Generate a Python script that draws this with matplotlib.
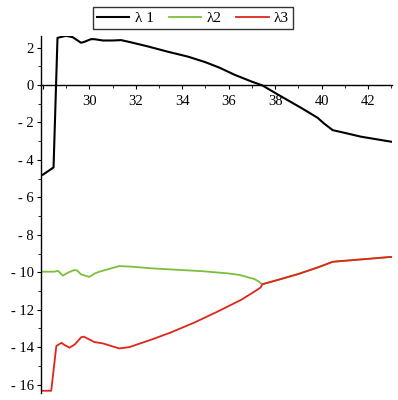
import matplotlib
matplotlib.use("Agg")
import matplotlib.pyplot as plt
from matplotlib.ticker import MultipleLocator, FuncFormatter

# lambda 1 (black)
x1 = [28.0, 28.46, 28.63, 28.99, 29.28, 29.64, 29.79, 30.07, 30.22, 30.58, 31.0, 31.37,
      31.8, 32.5, 33.38, 34.24, 35.0, 35.6, 36.25, 37.0, 37.45, 38.12, 39.12, 39.83,
      40.1, 40.48, 40.98, 41.7, 43.06]
y1 = [-4.79, -4.40, 2.52, 2.63, 2.56, 2.26, 2.31, 2.45, 2.45, 2.38, 2.38, 2.40,
      2.28, 2.07, 1.78, 1.52, 1.22, 0.93, 0.55, 0.18, -0.02, -0.51, -1.22, -1.75,
      -2.05, -2.41, -2.55, -2.76, -3.04]

# lambda 2 (green)
x2 = [28.0, 28.5, 28.65, 28.86, 29.08, 29.36, 29.47, 29.64, 30.0, 30.22, 30.43, 31.29,
      31.8, 32.67, 33.95, 34.82, 35.97, 36.5, 36.83, 37.1, 37.26, 37.45, 38.2,
      38.98, 39.84, 40.48, 41.84, 43.09]
y2 = [-9.97, -9.97, -9.92, -10.18, -10.02, -9.88, -9.9, -10.11, -10.25, -10.07, -9.97, -9.67,
      -9.70, -9.79, -9.88, -9.94, -10.06, -10.15, -10.27, -10.36, -10.47, -10.64, -10.38,
      -10.1, -9.74, -9.44, -9.3, -9.17]

# lambda 3 (red)
x3 = [27.97, 28.36, 28.58, 28.8, 28.94, 29.15, 29.37, 29.65, 29.76, 30.22, 30.58, 31.29,
      31.72, 32.67, 33.5, 34.5, 35.54, 36.54, 37.11, 37.37, 37.45, 38.2,
      38.98, 39.84, 40.48, 41.84, 43.09]
y3 = [-16.33, -16.33, -13.94, -13.77, -13.89, -14.03, -13.86, -13.47, -13.44, -13.73, -13.8, -14.07,
      -14.0, -13.6, -13.22, -12.7, -12.09, -11.47, -11.03, -10.82, -10.64, -10.38,
      -10.1, -9.74, -9.44, -9.3, -9.17]

plt.rcParams['font.family'] = ['Liberation Serif', 'DejaVu Serif']

fig = plt.figure(figsize=(3.98, 4.0), dpi=100)
ax = fig.add_axes([41 / 398, 7 / 400, 351 / 398, 357 / 400])

ax.plot(x1, y1, color='black', lw=1.5, label='λ 1')
ax.plot(x2, y2, color='#7cbf3c', lw=1.3, label='λ2')
ax.plot(x3, y3, color='#e0251b', lw=1.3, label='λ3')

ax.set_xlim(27.92, 43.03)
ax.set_ylim(-16.45, 2.62)

ax.spines['top'].set_visible(False)
ax.spines['right'].set_visible(False)
ax.spines['bottom'].set_position(('data', 0))
ax.spines['left'].set_linewidth(1.0)
ax.spines['bottom'].set_linewidth(1.0)

ax.xaxis.set_major_locator(MultipleLocator(2))
ax.xaxis.set_minor_locator(MultipleLocator(1))
ax.yaxis.set_major_locator(MultipleLocator(2))
ax.yaxis.set_minor_locator(MultipleLocator(1))
ax.xaxis.set_major_formatter(FuncFormatter(lambda v, p: '' if v <= 28.5 else f'{v:.0f}'))
ax.yaxis.set_major_formatter(FuncFormatter(lambda v, p: f'- {abs(v):.0f}' if v < 0 else f'{v:.0f}'))
ax.tick_params(axis='both', which='major', length=3, width=0.8, labelsize=10.5, pad=2)
ax.tick_params(axis='both', which='minor', length=2, width=0.6)
ax.tick_params(axis='x', pad=4)

fig.legend(loc='center', bbox_to_anchor=(193 / 398, 1 - 18 / 400), ncol=3, frameon=True,
           fancybox=False, edgecolor='black', fontsize=11, handlelength=2.1,
           columnspacing=1.0, handletextpad=0.35, borderpad=0.3, borderaxespad=0)

fig.savefig('out.png', dpi=100)
